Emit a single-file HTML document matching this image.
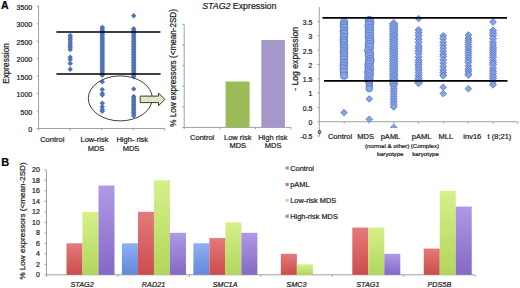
<!DOCTYPE html>
<html><head><meta charset="utf-8"><style>
html,body{margin:0;padding:0;background:#fff;}
body{width:520px;height:288px;overflow:hidden;}
svg{display:block;font-family:"Liberation Sans", sans-serif;}
text{stroke:#1e1e1e;stroke-width:0.22px;}
</style></head><body>
<svg width="520" height="288" viewBox="0 0 520 288">
<rect width="520" height="288" fill="#fff"/>
<text x="1.00" y="9.00" font-size="10.5" text-anchor="start" fill="#000" font-weight="bold" >A</text>
<text x="1.20" y="165.90" font-size="11.0" text-anchor="start" fill="#000" font-weight="bold" >B</text>
<line x1="38.60" y1="5.50" x2="38.60" y2="128.50" stroke="#a0a0a0" stroke-width="1"/>
<line x1="38.60" y1="128.50" x2="164.80" y2="128.50" stroke="#a0a0a0" stroke-width="1"/>
<line x1="36.60" y1="128.50" x2="38.60" y2="128.50" stroke="#a0a0a0" stroke-width="1"/>
<text x="32.20" y="132.10" font-size="7.0" text-anchor="end" fill="#1e1e1e" >0</text>
<line x1="36.60" y1="111.04" x2="38.60" y2="111.04" stroke="#a0a0a0" stroke-width="1"/>
<text x="32.20" y="114.64" font-size="7.0" text-anchor="end" fill="#1e1e1e" >500</text>
<line x1="36.60" y1="93.58" x2="38.60" y2="93.58" stroke="#a0a0a0" stroke-width="1"/>
<text x="32.20" y="97.18" font-size="7.0" text-anchor="end" fill="#1e1e1e" >1000</text>
<line x1="36.60" y1="76.12" x2="38.60" y2="76.12" stroke="#a0a0a0" stroke-width="1"/>
<text x="32.20" y="79.72" font-size="7.0" text-anchor="end" fill="#1e1e1e" >1500</text>
<line x1="36.60" y1="58.66" x2="38.60" y2="58.66" stroke="#a0a0a0" stroke-width="1"/>
<text x="32.20" y="62.26" font-size="7.0" text-anchor="end" fill="#1e1e1e" >2000</text>
<line x1="36.60" y1="41.20" x2="38.60" y2="41.20" stroke="#a0a0a0" stroke-width="1"/>
<text x="32.20" y="44.80" font-size="7.0" text-anchor="end" fill="#1e1e1e" >2500</text>
<line x1="36.60" y1="23.74" x2="38.60" y2="23.74" stroke="#a0a0a0" stroke-width="1"/>
<text x="32.20" y="27.34" font-size="7.0" text-anchor="end" fill="#1e1e1e" >3000</text>
<line x1="36.60" y1="6.28" x2="38.60" y2="6.28" stroke="#a0a0a0" stroke-width="1"/>
<text x="32.20" y="9.88" font-size="7.0" text-anchor="end" fill="#1e1e1e" >3500</text>
<line x1="38.60" y1="128.50" x2="38.60" y2="130.50" stroke="#a0a0a0" stroke-width="1"/>
<line x1="70.15" y1="128.50" x2="70.15" y2="130.50" stroke="#a0a0a0" stroke-width="1"/>
<line x1="101.70" y1="128.50" x2="101.70" y2="130.50" stroke="#a0a0a0" stroke-width="1"/>
<line x1="133.25" y1="128.50" x2="133.25" y2="130.50" stroke="#a0a0a0" stroke-width="1"/>
<line x1="164.80" y1="128.50" x2="164.80" y2="130.50" stroke="#a0a0a0" stroke-width="1"/>
<text transform="translate(9.3,63.5) rotate(-90)" font-size="8.2" text-anchor="middle" fill="#1e1e1e">Expression</text>
<text x="52.30" y="141.60" font-size="7.5" text-anchor="middle" fill="#1e1e1e" >Control</text>
<text x="94.50" y="141.60" font-size="7.5" text-anchor="middle" fill="#1e1e1e" >Low-risk</text>
<text x="96.00" y="150.70" font-size="7.5" text-anchor="middle" fill="#1e1e1e" >MDS</text>
<text x="132.30" y="141.60" font-size="7.5" text-anchor="middle" fill="#1e1e1e" >High- risk</text>
<text x="131.00" y="150.70" font-size="7.5" text-anchor="middle" fill="#1e1e1e" >MDS</text>
<path d="M70.20 32.80L72.90 35.50L70.20 38.20L67.50 35.50Z" fill="#4f72b8" stroke="none" stroke-width="0.6"/>
<path d="M70.20 34.80L72.90 37.50L70.20 40.20L67.50 37.50Z" fill="#4f72b8" stroke="none" stroke-width="0.6"/>
<path d="M70.20 36.80L72.90 39.50L70.20 42.20L67.50 39.50Z" fill="#4f72b8" stroke="none" stroke-width="0.6"/>
<path d="M70.20 38.80L72.90 41.50L70.20 44.20L67.50 41.50Z" fill="#4f72b8" stroke="none" stroke-width="0.6"/>
<path d="M70.20 40.80L72.90 43.50L70.20 46.20L67.50 43.50Z" fill="#4f72b8" stroke="none" stroke-width="0.6"/>
<path d="M70.20 42.80L72.90 45.50L70.20 48.20L67.50 45.50Z" fill="#4f72b8" stroke="none" stroke-width="0.6"/>
<path d="M70.20 44.80L72.90 47.50L70.20 50.20L67.50 47.50Z" fill="#4f72b8" stroke="none" stroke-width="0.6"/>
<path d="M70.20 46.80L72.90 49.50L70.20 52.20L67.50 49.50Z" fill="#4f72b8" stroke="none" stroke-width="0.6"/>
<path d="M70.20 54.50L72.90 57.20L70.20 59.90L67.50 57.20Z" fill="#4f72b8" stroke="none" stroke-width="0.6"/>
<path d="M70.20 56.80L72.90 59.50L70.20 62.20L67.50 59.50Z" fill="#4f72b8" stroke="none" stroke-width="0.6"/>
<path d="M70.20 60.80L72.90 63.50L70.20 66.20L67.50 63.50Z" fill="#4f72b8" stroke="none" stroke-width="0.6"/>
<path d="M70.20 66.50L72.90 69.20L70.20 71.90L67.50 69.20Z" fill="#4f72b8" stroke="none" stroke-width="0.6"/>
<path d="M102.30 24.60L105.00 27.30L102.30 30.00L99.60 27.30Z" fill="#4f72b8" stroke="none" stroke-width="0.6"/>
<path d="M102.30 26.20L105.00 28.90L102.30 31.60L99.60 28.90Z" fill="#4f72b8" stroke="none" stroke-width="0.6"/>
<path d="M102.30 27.80L105.00 30.50L102.30 33.20L99.60 30.50Z" fill="#4f72b8" stroke="none" stroke-width="0.6"/>
<path d="M102.30 29.40L105.00 32.10L102.30 34.80L99.60 32.10Z" fill="#4f72b8" stroke="none" stroke-width="0.6"/>
<path d="M102.30 31.00L105.00 33.70L102.30 36.40L99.60 33.70Z" fill="#4f72b8" stroke="none" stroke-width="0.6"/>
<path d="M102.30 32.60L105.00 35.30L102.30 38.00L99.60 35.30Z" fill="#4f72b8" stroke="none" stroke-width="0.6"/>
<path d="M102.30 34.20L105.00 36.90L102.30 39.60L99.60 36.90Z" fill="#4f72b8" stroke="none" stroke-width="0.6"/>
<path d="M102.30 35.80L105.00 38.50L102.30 41.20L99.60 38.50Z" fill="#4f72b8" stroke="none" stroke-width="0.6"/>
<path d="M102.30 37.40L105.00 40.10L102.30 42.80L99.60 40.10Z" fill="#4f72b8" stroke="none" stroke-width="0.6"/>
<path d="M102.30 39.00L105.00 41.70L102.30 44.40L99.60 41.70Z" fill="#4f72b8" stroke="none" stroke-width="0.6"/>
<path d="M102.30 40.60L105.00 43.30L102.30 46.00L99.60 43.30Z" fill="#4f72b8" stroke="none" stroke-width="0.6"/>
<path d="M102.30 42.20L105.00 44.90L102.30 47.60L99.60 44.90Z" fill="#4f72b8" stroke="none" stroke-width="0.6"/>
<path d="M102.30 43.80L105.00 46.50L102.30 49.20L99.60 46.50Z" fill="#4f72b8" stroke="none" stroke-width="0.6"/>
<path d="M102.30 45.40L105.00 48.10L102.30 50.80L99.60 48.10Z" fill="#4f72b8" stroke="none" stroke-width="0.6"/>
<path d="M102.30 47.00L105.00 49.70L102.30 52.40L99.60 49.70Z" fill="#4f72b8" stroke="none" stroke-width="0.6"/>
<path d="M102.30 48.60L105.00 51.30L102.30 54.00L99.60 51.30Z" fill="#4f72b8" stroke="none" stroke-width="0.6"/>
<path d="M102.30 50.20L105.00 52.90L102.30 55.60L99.60 52.90Z" fill="#4f72b8" stroke="none" stroke-width="0.6"/>
<path d="M102.30 51.80L105.00 54.50L102.30 57.20L99.60 54.50Z" fill="#4f72b8" stroke="none" stroke-width="0.6"/>
<path d="M102.30 53.40L105.00 56.10L102.30 58.80L99.60 56.10Z" fill="#4f72b8" stroke="none" stroke-width="0.6"/>
<path d="M102.30 55.00L105.00 57.70L102.30 60.40L99.60 57.70Z" fill="#4f72b8" stroke="none" stroke-width="0.6"/>
<path d="M102.30 56.60L105.00 59.30L102.30 62.00L99.60 59.30Z" fill="#4f72b8" stroke="none" stroke-width="0.6"/>
<path d="M102.30 58.20L105.00 60.90L102.30 63.60L99.60 60.90Z" fill="#4f72b8" stroke="none" stroke-width="0.6"/>
<path d="M102.30 59.80L105.00 62.50L102.30 65.20L99.60 62.50Z" fill="#4f72b8" stroke="none" stroke-width="0.6"/>
<path d="M102.30 61.40L105.00 64.10L102.30 66.80L99.60 64.10Z" fill="#4f72b8" stroke="none" stroke-width="0.6"/>
<path d="M102.30 63.00L105.00 65.70L102.30 68.40L99.60 65.70Z" fill="#4f72b8" stroke="none" stroke-width="0.6"/>
<path d="M102.30 64.60L105.00 67.30L102.30 70.00L99.60 67.30Z" fill="#4f72b8" stroke="none" stroke-width="0.6"/>
<path d="M102.30 66.20L105.00 68.90L102.30 71.60L99.60 68.90Z" fill="#4f72b8" stroke="none" stroke-width="0.6"/>
<path d="M102.30 67.80L105.00 70.50L102.30 73.20L99.60 70.50Z" fill="#4f72b8" stroke="none" stroke-width="0.6"/>
<path d="M102.30 69.40L105.00 72.10L102.30 74.80L99.60 72.10Z" fill="#4f72b8" stroke="none" stroke-width="0.6"/>
<path d="M102.30 71.00L105.00 73.70L102.30 76.40L99.60 73.70Z" fill="#4f72b8" stroke="none" stroke-width="0.6"/>
<path d="M102.30 72.60L105.00 75.30L102.30 78.00L99.60 75.30Z" fill="#4f72b8" stroke="none" stroke-width="0.6"/>
<path d="M102.30 79.10L105.00 81.80L102.30 84.50L99.60 81.80Z" fill="#4f72b8" stroke="none" stroke-width="0.6"/>
<path d="M102.30 86.90L105.00 89.60L102.30 92.30L99.60 89.60Z" fill="#4f72b8" stroke="none" stroke-width="0.6"/>
<path d="M102.30 90.70L105.00 93.40L102.30 96.10L99.60 93.40Z" fill="#4f72b8" stroke="none" stroke-width="0.6"/>
<path d="M102.30 92.30L105.00 95.00L102.30 97.70L99.60 95.00Z" fill="#4f72b8" stroke="none" stroke-width="0.6"/>
<path d="M102.30 100.60L105.00 103.30L102.30 106.00L99.60 103.30Z" fill="#4f72b8" stroke="none" stroke-width="0.6"/>
<path d="M102.30 104.10L105.00 106.80L102.30 109.50L99.60 106.80Z" fill="#4f72b8" stroke="none" stroke-width="0.6"/>
<path d="M102.30 106.90L105.00 109.60L102.30 112.30L99.60 109.60Z" fill="#4f72b8" stroke="none" stroke-width="0.6"/>
<path d="M102.30 108.50L105.00 111.20L102.30 113.90L99.60 111.20Z" fill="#4f72b8" stroke="none" stroke-width="0.6"/>
<path d="M133.70 13.10L136.40 15.80L133.70 18.50L131.00 15.80Z" fill="#4f72b8" stroke="none" stroke-width="0.6"/>
<path d="M133.70 26.10L136.40 28.80L133.70 31.50L131.00 28.80Z" fill="#4f72b8" stroke="none" stroke-width="0.6"/>
<path d="M133.70 27.70L136.40 30.40L133.70 33.10L131.00 30.40Z" fill="#4f72b8" stroke="none" stroke-width="0.6"/>
<path d="M133.70 29.30L136.40 32.00L133.70 34.70L131.00 32.00Z" fill="#4f72b8" stroke="none" stroke-width="0.6"/>
<path d="M133.70 30.90L136.40 33.60L133.70 36.30L131.00 33.60Z" fill="#4f72b8" stroke="none" stroke-width="0.6"/>
<path d="M133.70 32.50L136.40 35.20L133.70 37.90L131.00 35.20Z" fill="#4f72b8" stroke="none" stroke-width="0.6"/>
<path d="M133.70 34.10L136.40 36.80L133.70 39.50L131.00 36.80Z" fill="#4f72b8" stroke="none" stroke-width="0.6"/>
<path d="M133.70 35.70L136.40 38.40L133.70 41.10L131.00 38.40Z" fill="#4f72b8" stroke="none" stroke-width="0.6"/>
<path d="M133.70 37.30L136.40 40.00L133.70 42.70L131.00 40.00Z" fill="#4f72b8" stroke="none" stroke-width="0.6"/>
<path d="M133.70 38.90L136.40 41.60L133.70 44.30L131.00 41.60Z" fill="#4f72b8" stroke="none" stroke-width="0.6"/>
<path d="M133.70 40.50L136.40 43.20L133.70 45.90L131.00 43.20Z" fill="#4f72b8" stroke="none" stroke-width="0.6"/>
<path d="M133.70 42.10L136.40 44.80L133.70 47.50L131.00 44.80Z" fill="#4f72b8" stroke="none" stroke-width="0.6"/>
<path d="M133.70 43.70L136.40 46.40L133.70 49.10L131.00 46.40Z" fill="#4f72b8" stroke="none" stroke-width="0.6"/>
<path d="M133.70 45.30L136.40 48.00L133.70 50.70L131.00 48.00Z" fill="#4f72b8" stroke="none" stroke-width="0.6"/>
<path d="M133.70 46.90L136.40 49.60L133.70 52.30L131.00 49.60Z" fill="#4f72b8" stroke="none" stroke-width="0.6"/>
<path d="M133.70 48.50L136.40 51.20L133.70 53.90L131.00 51.20Z" fill="#4f72b8" stroke="none" stroke-width="0.6"/>
<path d="M133.70 50.10L136.40 52.80L133.70 55.50L131.00 52.80Z" fill="#4f72b8" stroke="none" stroke-width="0.6"/>
<path d="M133.70 51.70L136.40 54.40L133.70 57.10L131.00 54.40Z" fill="#4f72b8" stroke="none" stroke-width="0.6"/>
<path d="M133.70 53.30L136.40 56.00L133.70 58.70L131.00 56.00Z" fill="#4f72b8" stroke="none" stroke-width="0.6"/>
<path d="M133.70 54.90L136.40 57.60L133.70 60.30L131.00 57.60Z" fill="#4f72b8" stroke="none" stroke-width="0.6"/>
<path d="M133.70 56.50L136.40 59.20L133.70 61.90L131.00 59.20Z" fill="#4f72b8" stroke="none" stroke-width="0.6"/>
<path d="M133.70 58.10L136.40 60.80L133.70 63.50L131.00 60.80Z" fill="#4f72b8" stroke="none" stroke-width="0.6"/>
<path d="M133.70 59.70L136.40 62.40L133.70 65.10L131.00 62.40Z" fill="#4f72b8" stroke="none" stroke-width="0.6"/>
<path d="M133.70 61.30L136.40 64.00L133.70 66.70L131.00 64.00Z" fill="#4f72b8" stroke="none" stroke-width="0.6"/>
<path d="M133.70 62.90L136.40 65.60L133.70 68.30L131.00 65.60Z" fill="#4f72b8" stroke="none" stroke-width="0.6"/>
<path d="M133.70 64.50L136.40 67.20L133.70 69.90L131.00 67.20Z" fill="#4f72b8" stroke="none" stroke-width="0.6"/>
<path d="M133.70 66.10L136.40 68.80L133.70 71.50L131.00 68.80Z" fill="#4f72b8" stroke="none" stroke-width="0.6"/>
<path d="M133.70 67.70L136.40 70.40L133.70 73.10L131.00 70.40Z" fill="#4f72b8" stroke="none" stroke-width="0.6"/>
<path d="M133.70 69.30L136.40 72.00L133.70 74.70L131.00 72.00Z" fill="#4f72b8" stroke="none" stroke-width="0.6"/>
<path d="M133.70 70.90L136.40 73.60L133.70 76.30L131.00 73.60Z" fill="#4f72b8" stroke="none" stroke-width="0.6"/>
<path d="M133.70 72.50L136.40 75.20L133.70 77.90L131.00 75.20Z" fill="#4f72b8" stroke="none" stroke-width="0.6"/>
<path d="M133.70 74.10L136.40 76.80L133.70 79.50L131.00 76.80Z" fill="#4f72b8" stroke="none" stroke-width="0.6"/>
<path d="M133.70 86.20L136.40 88.90L133.70 91.60L131.00 88.90Z" fill="#4f72b8" stroke="none" stroke-width="0.6"/>
<path d="M133.70 93.80L136.40 96.50L133.70 99.20L131.00 96.50Z" fill="#4f72b8" stroke="none" stroke-width="0.6"/>
<path d="M133.70 95.40L136.40 98.10L133.70 100.80L131.00 98.10Z" fill="#4f72b8" stroke="none" stroke-width="0.6"/>
<path d="M133.70 97.00L136.40 99.70L133.70 102.40L131.00 99.70Z" fill="#4f72b8" stroke="none" stroke-width="0.6"/>
<path d="M133.70 98.60L136.40 101.30L133.70 104.00L131.00 101.30Z" fill="#4f72b8" stroke="none" stroke-width="0.6"/>
<path d="M133.70 100.20L136.40 102.90L133.70 105.60L131.00 102.90Z" fill="#4f72b8" stroke="none" stroke-width="0.6"/>
<path d="M133.70 101.80L136.40 104.50L133.70 107.20L131.00 104.50Z" fill="#4f72b8" stroke="none" stroke-width="0.6"/>
<path d="M133.70 103.40L136.40 106.10L133.70 108.80L131.00 106.10Z" fill="#4f72b8" stroke="none" stroke-width="0.6"/>
<path d="M133.70 105.00L136.40 107.70L133.70 110.40L131.00 107.70Z" fill="#4f72b8" stroke="none" stroke-width="0.6"/>
<path d="M133.70 106.60L136.40 109.30L133.70 112.00L131.00 109.30Z" fill="#4f72b8" stroke="none" stroke-width="0.6"/>
<path d="M133.70 108.20L136.40 110.90L133.70 113.60L131.00 110.90Z" fill="#4f72b8" stroke="none" stroke-width="0.6"/>
<path d="M133.70 109.80L136.40 112.50L133.70 115.20L131.00 112.50Z" fill="#4f72b8" stroke="none" stroke-width="0.6"/>
<path d="M133.70 111.40L136.40 114.10L133.70 116.80L131.00 114.10Z" fill="#4f72b8" stroke="none" stroke-width="0.6"/>
<path d="M133.70 113.00L136.40 115.70L133.70 118.40L131.00 115.70Z" fill="#4f72b8" stroke="none" stroke-width="0.6"/>
<line x1="56.40" y1="32.00" x2="160.40" y2="32.00" stroke="#000" stroke-width="1.7"/>
<line x1="56.40" y1="74.00" x2="160.60" y2="74.00" stroke="#000" stroke-width="1.7"/>
<ellipse cx="120.3" cy="98.4" rx="32.0" ry="22.5" fill="none" stroke="#404040" stroke-width="1.0"/>
<path d="M140.2 96.1 L158.5 96.1 L158.5 93.1 L164.9 99.4 L158.5 105.7 L158.5 102.6 L140.2 102.6 Z" fill="#e1e8c9" stroke="#3a3d24" stroke-width="1.0"/>
<line x1="184.20" y1="24.60" x2="184.20" y2="127.40" stroke="#a0a0a0" stroke-width="1"/>
<line x1="184.20" y1="127.40" x2="291.20" y2="127.40" stroke="#a0a0a0" stroke-width="1"/>
<line x1="182.20" y1="127.40" x2="184.20" y2="127.40" stroke="#a0a0a0" stroke-width="1"/>
<line x1="182.20" y1="106.80" x2="184.20" y2="106.80" stroke="#a0a0a0" stroke-width="1"/>
<line x1="182.20" y1="86.20" x2="184.20" y2="86.20" stroke="#a0a0a0" stroke-width="1"/>
<line x1="182.20" y1="65.60" x2="184.20" y2="65.60" stroke="#a0a0a0" stroke-width="1"/>
<line x1="182.20" y1="45.00" x2="184.20" y2="45.00" stroke="#a0a0a0" stroke-width="1"/>
<line x1="182.20" y1="24.40" x2="184.20" y2="24.40" stroke="#a0a0a0" stroke-width="1"/>
<line x1="184.20" y1="127.40" x2="184.20" y2="129.40" stroke="#a0a0a0" stroke-width="1"/>
<line x1="219.80" y1="127.40" x2="219.80" y2="129.40" stroke="#a0a0a0" stroke-width="1"/>
<line x1="255.40" y1="127.40" x2="255.40" y2="129.40" stroke="#a0a0a0" stroke-width="1"/>
<line x1="291.00" y1="127.40" x2="291.00" y2="129.40" stroke="#a0a0a0" stroke-width="1"/>
<rect x="225.6" y="81.5" width="24" height="45.90" fill="#9bbb59"/>
<rect x="261.3" y="40.0" width="23.6" height="87.40" fill="#a597c9"/>
<text transform="translate(176.4,67.9) rotate(-90)" font-size="8.15" text-anchor="middle" fill="#1e1e1e">% Low expressors (&lt;mean-2SD)</text>
<text x="239.3" y="8.8" font-size="8.8" text-anchor="middle" fill="#1e1e1e"><tspan font-style="italic">STAG2</tspan> Expression</text>
<text x="202.20" y="139.60" font-size="7.5" text-anchor="middle" fill="#1e1e1e" >Control</text>
<text x="237.80" y="139.60" font-size="7.5" text-anchor="middle" fill="#1e1e1e" >Low risk</text>
<text x="237.80" y="148.00" font-size="7.5" text-anchor="middle" fill="#1e1e1e" >MDS</text>
<text x="272.80" y="139.60" font-size="7.5" text-anchor="middle" fill="#1e1e1e" >High risk</text>
<text x="273.20" y="148.00" font-size="7.5" text-anchor="middle" fill="#1e1e1e" >MDS</text>
<line x1="319.30" y1="7.00" x2="319.30" y2="136.50" stroke="#a0a0a0" stroke-width="1"/>
<line x1="319.30" y1="121.70" x2="517.50" y2="121.70" stroke="#a0a0a0" stroke-width="1"/>
<line x1="317.30" y1="136.01" x2="319.30" y2="136.01" stroke="#a0a0a0" stroke-width="1"/>
<line x1="317.30" y1="121.70" x2="319.30" y2="121.70" stroke="#a0a0a0" stroke-width="1"/>
<line x1="317.30" y1="107.39" x2="319.30" y2="107.39" stroke="#a0a0a0" stroke-width="1"/>
<line x1="317.30" y1="93.08" x2="319.30" y2="93.08" stroke="#a0a0a0" stroke-width="1"/>
<line x1="317.30" y1="78.77" x2="319.30" y2="78.77" stroke="#a0a0a0" stroke-width="1"/>
<line x1="317.30" y1="64.46" x2="319.30" y2="64.46" stroke="#a0a0a0" stroke-width="1"/>
<line x1="317.30" y1="50.15" x2="319.30" y2="50.15" stroke="#a0a0a0" stroke-width="1"/>
<line x1="317.30" y1="35.84" x2="319.30" y2="35.84" stroke="#a0a0a0" stroke-width="1"/>
<line x1="317.30" y1="21.53" x2="319.30" y2="21.53" stroke="#a0a0a0" stroke-width="1"/>
<text x="312.40" y="139.41" font-size="6.9" text-anchor="end" fill="#1e1e1e" >-0.5</text>
<text x="312.40" y="125.10" font-size="6.9" text-anchor="end" fill="#1e1e1e" >0</text>
<text x="312.40" y="110.79" font-size="6.9" text-anchor="end" fill="#1e1e1e" >0.5</text>
<text x="312.40" y="96.48" font-size="6.9" text-anchor="end" fill="#1e1e1e" >1</text>
<text x="312.40" y="82.17" font-size="6.9" text-anchor="end" fill="#1e1e1e" >1.5</text>
<text x="312.40" y="67.86" font-size="6.9" text-anchor="end" fill="#1e1e1e" >2</text>
<text x="312.40" y="53.55" font-size="6.9" text-anchor="end" fill="#1e1e1e" >2.5</text>
<text x="312.40" y="39.24" font-size="6.9" text-anchor="end" fill="#1e1e1e" >3</text>
<text x="312.40" y="24.93" font-size="6.9" text-anchor="end" fill="#1e1e1e" >3.5</text>
<line x1="344.13" y1="121.70" x2="344.13" y2="123.70" stroke="#a0a0a0" stroke-width="1"/>
<line x1="368.96" y1="121.70" x2="368.96" y2="123.70" stroke="#a0a0a0" stroke-width="1"/>
<line x1="393.79" y1="121.70" x2="393.79" y2="123.70" stroke="#a0a0a0" stroke-width="1"/>
<line x1="418.62" y1="121.70" x2="418.62" y2="123.70" stroke="#a0a0a0" stroke-width="1"/>
<line x1="443.45" y1="121.70" x2="443.45" y2="123.70" stroke="#a0a0a0" stroke-width="1"/>
<line x1="468.28" y1="121.70" x2="468.28" y2="123.70" stroke="#a0a0a0" stroke-width="1"/>
<line x1="493.11" y1="121.70" x2="493.11" y2="123.70" stroke="#a0a0a0" stroke-width="1"/>
<line x1="517.94" y1="121.70" x2="517.94" y2="123.70" stroke="#a0a0a0" stroke-width="1"/>
<text transform="translate(298.4,58.9) rotate(-90)" font-size="8.65" text-anchor="middle" fill="#1e1e1e">- Log expression</text>
<text x="319.30" y="133.60" font-size="6.0" text-anchor="middle" fill="#1e1e1e" >0</text>
<circle cx="344.05" cy="22.20" r="3.8" fill="#88a3e4" stroke="#5676c8" stroke-width="0.8"/>
<circle cx="343.94" cy="25.12" r="3.8" fill="#88a3e4" stroke="#5676c8" stroke-width="0.8"/>
<circle cx="344.29" cy="27.76" r="3.8" fill="#88a3e4" stroke="#5676c8" stroke-width="0.8"/>
<circle cx="343.73" cy="31.20" r="3.8" fill="#88a3e4" stroke="#5676c8" stroke-width="0.8"/>
<circle cx="344.22" cy="33.72" r="3.8" fill="#88a3e4" stroke="#5676c8" stroke-width="0.8"/>
<circle cx="343.87" cy="36.97" r="3.8" fill="#88a3e4" stroke="#5676c8" stroke-width="0.8"/>
<circle cx="343.79" cy="39.96" r="3.8" fill="#88a3e4" stroke="#5676c8" stroke-width="0.8"/>
<circle cx="343.77" cy="42.45" r="3.8" fill="#88a3e4" stroke="#5676c8" stroke-width="0.8"/>
<circle cx="343.89" cy="45.66" r="3.8" fill="#88a3e4" stroke="#5676c8" stroke-width="0.8"/>
<circle cx="344.19" cy="48.12" r="3.8" fill="#88a3e4" stroke="#5676c8" stroke-width="0.8"/>
<circle cx="343.81" cy="51.22" r="3.8" fill="#88a3e4" stroke="#5676c8" stroke-width="0.8"/>
<circle cx="344.05" cy="53.73" r="3.8" fill="#88a3e4" stroke="#5676c8" stroke-width="0.8"/>
<circle cx="344.08" cy="56.27" r="3.8" fill="#88a3e4" stroke="#5676c8" stroke-width="0.8"/>
<circle cx="343.92" cy="59.35" r="3.8" fill="#88a3e4" stroke="#5676c8" stroke-width="0.8"/>
<circle cx="344.03" cy="63.08" r="3.8" fill="#88a3e4" stroke="#5676c8" stroke-width="0.8"/>
<circle cx="343.74" cy="65.68" r="3.8" fill="#88a3e4" stroke="#5676c8" stroke-width="0.8"/>
<circle cx="343.74" cy="68.43" r="3.8" fill="#88a3e4" stroke="#5676c8" stroke-width="0.8"/>
<circle cx="343.82" cy="71.84" r="3.8" fill="#88a3e4" stroke="#5676c8" stroke-width="0.8"/>
<circle cx="344.11" cy="75.60" r="3.8" fill="#88a3e4" stroke="#5676c8" stroke-width="0.8"/>
<path d="M344.00 109.30L347.30 112.60L344.00 115.90L340.70 112.60Z" fill="#88a3e4" stroke="#5676c8" stroke-width="0.8"/>
<circle cx="369.39" cy="20.50" r="4.2" fill="#88a3e4" stroke="#5676c8" stroke-width="0.8"/>
<circle cx="369.75" cy="23.10" r="4.2" fill="#88a3e4" stroke="#5676c8" stroke-width="0.8"/>
<circle cx="369.08" cy="25.54" r="4.2" fill="#88a3e4" stroke="#5676c8" stroke-width="0.8"/>
<circle cx="369.53" cy="28.36" r="4.2" fill="#88a3e4" stroke="#5676c8" stroke-width="0.8"/>
<circle cx="369.41" cy="30.99" r="4.2" fill="#88a3e4" stroke="#5676c8" stroke-width="0.8"/>
<circle cx="369.40" cy="33.41" r="4.2" fill="#88a3e4" stroke="#5676c8" stroke-width="0.8"/>
<circle cx="369.25" cy="36.52" r="4.2" fill="#88a3e4" stroke="#5676c8" stroke-width="0.8"/>
<circle cx="369.71" cy="39.50" r="4.2" fill="#88a3e4" stroke="#5676c8" stroke-width="0.8"/>
<circle cx="369.83" cy="41.84" r="4.2" fill="#88a3e4" stroke="#5676c8" stroke-width="0.8"/>
<circle cx="369.27" cy="44.65" r="4.2" fill="#88a3e4" stroke="#5676c8" stroke-width="0.8"/>
<circle cx="369.50" cy="47.38" r="4.2" fill="#88a3e4" stroke="#5676c8" stroke-width="0.8"/>
<circle cx="368.77" cy="50.61" r="4.2" fill="#88a3e4" stroke="#5676c8" stroke-width="0.8"/>
<circle cx="369.54" cy="53.63" r="4.2" fill="#88a3e4" stroke="#5676c8" stroke-width="0.8"/>
<circle cx="369.48" cy="56.03" r="4.2" fill="#88a3e4" stroke="#5676c8" stroke-width="0.8"/>
<circle cx="369.89" cy="59.41" r="4.2" fill="#88a3e4" stroke="#5676c8" stroke-width="0.8"/>
<circle cx="369.69" cy="61.57" r="4.2" fill="#88a3e4" stroke="#5676c8" stroke-width="0.8"/>
<circle cx="369.04" cy="64.16" r="4.2" fill="#88a3e4" stroke="#5676c8" stroke-width="0.8"/>
<circle cx="369.16" cy="67.22" r="4.2" fill="#88a3e4" stroke="#5676c8" stroke-width="0.8"/>
<circle cx="369.50" cy="69.43" r="4.2" fill="#88a3e4" stroke="#5676c8" stroke-width="0.8"/>
<circle cx="368.73" cy="72.11" r="4.2" fill="#88a3e4" stroke="#5676c8" stroke-width="0.8"/>
<circle cx="369.25" cy="74.17" r="4.2" fill="#88a3e4" stroke="#5676c8" stroke-width="0.8"/>
<circle cx="368.90" cy="77.10" r="4.2" fill="#88a3e4" stroke="#5676c8" stroke-width="0.8"/>
<circle cx="368.84" cy="80.00" r="4.2" fill="#88a3e4" stroke="#5676c8" stroke-width="0.8"/>
<circle cx="369.30" cy="81.50" r="3.3" fill="#88a3e4" stroke="#5676c8" stroke-width="0.8"/>
<circle cx="369.30" cy="83.74" r="3.3" fill="#88a3e4" stroke="#5676c8" stroke-width="0.8"/>
<circle cx="369.30" cy="86.40" r="3.3" fill="#88a3e4" stroke="#5676c8" stroke-width="0.8"/>
<circle cx="369.30" cy="88.60" r="3.3" fill="#88a3e4" stroke="#5676c8" stroke-width="0.8"/>
<path d="M369.30 95.60L372.60 98.90L369.30 102.20L366.00 98.90Z" fill="#88a3e4" stroke="#5676c8" stroke-width="0.8"/>
<path d="M369.30 115.90L372.60 119.20L369.30 122.50L366.00 119.20Z" fill="#88a3e4" stroke="#5676c8" stroke-width="0.8"/>
<path d="M393.70 19.40L398.10 23.80L393.70 28.20L389.30 23.80Z" fill="#88a3e4" stroke="#5676c8" stroke-width="0.8"/>
<path d="M393.70 21.90L398.10 26.30L393.70 30.70L389.30 26.30Z" fill="#88a3e4" stroke="#5676c8" stroke-width="0.8"/>
<path d="M393.70 24.40L398.10 28.80L393.70 33.20L389.30 28.80Z" fill="#88a3e4" stroke="#5676c8" stroke-width="0.8"/>
<path d="M393.70 26.90L398.10 31.30L393.70 35.70L389.30 31.30Z" fill="#88a3e4" stroke="#5676c8" stroke-width="0.8"/>
<path d="M393.70 29.40L398.10 33.80L393.70 38.20L389.30 33.80Z" fill="#88a3e4" stroke="#5676c8" stroke-width="0.8"/>
<path d="M393.70 31.90L398.10 36.30L393.70 40.70L389.30 36.30Z" fill="#88a3e4" stroke="#5676c8" stroke-width="0.8"/>
<path d="M393.70 34.40L398.10 38.80L393.70 43.20L389.30 38.80Z" fill="#88a3e4" stroke="#5676c8" stroke-width="0.8"/>
<path d="M393.70 36.90L398.10 41.30L393.70 45.70L389.30 41.30Z" fill="#88a3e4" stroke="#5676c8" stroke-width="0.8"/>
<path d="M393.70 39.40L398.10 43.80L393.70 48.20L389.30 43.80Z" fill="#88a3e4" stroke="#5676c8" stroke-width="0.8"/>
<path d="M393.70 41.90L398.10 46.30L393.70 50.70L389.30 46.30Z" fill="#88a3e4" stroke="#5676c8" stroke-width="0.8"/>
<path d="M393.70 44.40L398.10 48.80L393.70 53.20L389.30 48.80Z" fill="#88a3e4" stroke="#5676c8" stroke-width="0.8"/>
<path d="M393.70 46.90L398.10 51.30L393.70 55.70L389.30 51.30Z" fill="#88a3e4" stroke="#5676c8" stroke-width="0.8"/>
<path d="M393.70 49.40L398.10 53.80L393.70 58.20L389.30 53.80Z" fill="#88a3e4" stroke="#5676c8" stroke-width="0.8"/>
<path d="M393.70 51.90L398.10 56.30L393.70 60.70L389.30 56.30Z" fill="#88a3e4" stroke="#5676c8" stroke-width="0.8"/>
<path d="M393.70 54.40L398.10 58.80L393.70 63.20L389.30 58.80Z" fill="#88a3e4" stroke="#5676c8" stroke-width="0.8"/>
<path d="M393.70 56.90L398.10 61.30L393.70 65.70L389.30 61.30Z" fill="#88a3e4" stroke="#5676c8" stroke-width="0.8"/>
<path d="M393.70 59.40L398.10 63.80L393.70 68.20L389.30 63.80Z" fill="#88a3e4" stroke="#5676c8" stroke-width="0.8"/>
<path d="M393.70 61.90L398.10 66.30L393.70 70.70L389.30 66.30Z" fill="#88a3e4" stroke="#5676c8" stroke-width="0.8"/>
<path d="M393.70 64.40L398.10 68.80L393.70 73.20L389.30 68.80Z" fill="#88a3e4" stroke="#5676c8" stroke-width="0.8"/>
<path d="M393.70 66.90L398.10 71.30L393.70 75.70L389.30 71.30Z" fill="#88a3e4" stroke="#5676c8" stroke-width="0.8"/>
<path d="M393.70 69.40L398.10 73.80L393.70 78.20L389.30 73.80Z" fill="#88a3e4" stroke="#5676c8" stroke-width="0.8"/>
<path d="M393.70 71.90L398.10 76.30L393.70 80.70L389.30 76.30Z" fill="#88a3e4" stroke="#5676c8" stroke-width="0.8"/>
<path d="M393.70 74.40L398.10 78.80L393.70 83.20L389.30 78.80Z" fill="#88a3e4" stroke="#5676c8" stroke-width="0.8"/>
<path d="M393.70 76.90L398.10 81.30L393.70 85.70L389.30 81.30Z" fill="#88a3e4" stroke="#5676c8" stroke-width="0.8"/>
<path d="M393.70 79.40L398.10 83.80L393.70 88.20L389.30 83.80Z" fill="#88a3e4" stroke="#5676c8" stroke-width="0.8"/>
<path d="M393.70 82.50L397.20 86.00L393.70 89.50L390.20 86.00Z" fill="#88a3e4" stroke="#5676c8" stroke-width="0.8"/>
<path d="M393.70 85.10L397.20 88.60L393.70 92.10L390.20 88.60Z" fill="#88a3e4" stroke="#5676c8" stroke-width="0.8"/>
<path d="M393.70 87.70L397.20 91.20L393.70 94.70L390.20 91.20Z" fill="#88a3e4" stroke="#5676c8" stroke-width="0.8"/>
<path d="M393.70 90.30L397.20 93.80L393.70 97.30L390.20 93.80Z" fill="#88a3e4" stroke="#5676c8" stroke-width="0.8"/>
<path d="M393.70 92.90L397.20 96.40L393.70 99.90L390.20 96.40Z" fill="#88a3e4" stroke="#5676c8" stroke-width="0.8"/>
<path d="M393.70 95.50L397.20 99.00L393.70 102.50L390.20 99.00Z" fill="#88a3e4" stroke="#5676c8" stroke-width="0.8"/>
<path d="M393.70 98.10L397.20 101.60L393.70 105.10L390.20 101.60Z" fill="#88a3e4" stroke="#5676c8" stroke-width="0.8"/>
<path d="M393.70 100.70L397.20 104.20L393.70 107.70L390.20 104.20Z" fill="#88a3e4" stroke="#5676c8" stroke-width="0.8"/>
<path d="M393.70 103.30L397.20 106.80L393.70 110.30L390.20 106.80Z" fill="#88a3e4" stroke="#5676c8" stroke-width="0.8"/>
<path d="M390.3 127.6 L393.7 123.9 L397.1 127.6 Z" fill="#88a3e4" stroke="#5676c8" stroke-width="0.7"/>
<path d="M418.60 15.30L421.90 18.60L418.60 21.90L415.30 18.60Z" fill="#88a3e4" stroke="#5676c8" stroke-width="0.8"/>
<path d="M418.60 26.40L422.20 30.00L418.60 33.60L415.00 30.00Z" fill="#88a3e4" stroke="#5676c8" stroke-width="0.8"/>
<path d="M418.60 29.12L422.20 32.72L418.60 36.32L415.00 32.72Z" fill="#88a3e4" stroke="#5676c8" stroke-width="0.8"/>
<path d="M418.60 32.00L422.20 35.60L418.60 39.20L415.00 35.60Z" fill="#88a3e4" stroke="#5676c8" stroke-width="0.8"/>
<path d="M418.60 35.41L422.20 39.01L418.60 42.61L415.00 39.01Z" fill="#88a3e4" stroke="#5676c8" stroke-width="0.8"/>
<path d="M418.60 38.72L422.20 42.32L418.60 45.92L415.00 42.32Z" fill="#88a3e4" stroke="#5676c8" stroke-width="0.8"/>
<path d="M418.60 42.10L422.20 45.70L418.60 49.30L415.00 45.70Z" fill="#88a3e4" stroke="#5676c8" stroke-width="0.8"/>
<path d="M418.60 44.55L422.20 48.15L418.60 51.75L415.00 48.15Z" fill="#88a3e4" stroke="#5676c8" stroke-width="0.8"/>
<path d="M418.60 47.21L422.20 50.81L418.60 54.41L415.00 50.81Z" fill="#88a3e4" stroke="#5676c8" stroke-width="0.8"/>
<path d="M418.60 49.79L422.20 53.39L418.60 56.99L415.00 53.39Z" fill="#88a3e4" stroke="#5676c8" stroke-width="0.8"/>
<path d="M418.60 53.20L422.20 56.80L418.60 60.40L415.00 56.80Z" fill="#88a3e4" stroke="#5676c8" stroke-width="0.8"/>
<path d="M418.60 56.74L422.20 60.34L418.60 63.94L415.00 60.34Z" fill="#88a3e4" stroke="#5676c8" stroke-width="0.8"/>
<path d="M418.60 58.98L422.20 62.58L418.60 66.18L415.00 62.58Z" fill="#88a3e4" stroke="#5676c8" stroke-width="0.8"/>
<path d="M418.60 61.26L422.20 64.86L418.60 68.46L415.00 64.86Z" fill="#88a3e4" stroke="#5676c8" stroke-width="0.8"/>
<path d="M418.60 63.63L422.20 67.23L418.60 70.83L415.00 67.23Z" fill="#88a3e4" stroke="#5676c8" stroke-width="0.8"/>
<path d="M418.60 66.00L422.20 69.60L418.60 73.20L415.00 69.60Z" fill="#88a3e4" stroke="#5676c8" stroke-width="0.8"/>
<path d="M418.60 68.78L422.20 72.38L418.60 75.98L415.00 72.38Z" fill="#88a3e4" stroke="#5676c8" stroke-width="0.8"/>
<path d="M418.60 71.72L422.20 75.32L418.60 78.92L415.00 75.32Z" fill="#88a3e4" stroke="#5676c8" stroke-width="0.8"/>
<path d="M418.60 74.14L422.20 77.74L418.60 81.34L415.00 77.74Z" fill="#88a3e4" stroke="#5676c8" stroke-width="0.8"/>
<path d="M418.60 76.15L422.20 79.75L418.60 83.35L415.00 79.75Z" fill="#88a3e4" stroke="#5676c8" stroke-width="0.8"/>
<path d="M418.60 78.82L422.20 82.42L418.60 86.02L415.00 82.42Z" fill="#88a3e4" stroke="#5676c8" stroke-width="0.8"/>
<path d="M418.60 79.60L422.20 83.20L418.60 86.80L415.00 83.20Z" fill="#88a3e4" stroke="#5676c8" stroke-width="0.8"/>
<path d="M443.20 32.40L446.60 35.80L443.20 39.20L439.80 35.80Z" fill="#88a3e4" stroke="#5676c8" stroke-width="0.8"/>
<path d="M443.20 35.31L446.60 38.71L443.20 42.11L439.80 38.71Z" fill="#88a3e4" stroke="#5676c8" stroke-width="0.8"/>
<path d="M443.20 38.83L446.60 42.23L443.20 45.63L439.80 42.23Z" fill="#88a3e4" stroke="#5676c8" stroke-width="0.8"/>
<path d="M443.20 41.94L446.60 45.34L443.20 48.74L439.80 45.34Z" fill="#88a3e4" stroke="#5676c8" stroke-width="0.8"/>
<path d="M443.20 44.76L446.60 48.16L443.20 51.56L439.80 48.16Z" fill="#88a3e4" stroke="#5676c8" stroke-width="0.8"/>
<path d="M443.20 47.75L446.60 51.15L443.20 54.55L439.80 51.15Z" fill="#88a3e4" stroke="#5676c8" stroke-width="0.8"/>
<path d="M443.20 50.83L446.60 54.23L443.20 57.63L439.80 54.23Z" fill="#88a3e4" stroke="#5676c8" stroke-width="0.8"/>
<path d="M443.20 52.92L446.60 56.32L443.20 59.72L439.80 56.32Z" fill="#88a3e4" stroke="#5676c8" stroke-width="0.8"/>
<path d="M443.20 56.36L446.60 59.76L443.20 63.16L439.80 59.76Z" fill="#88a3e4" stroke="#5676c8" stroke-width="0.8"/>
<path d="M443.20 59.60L446.60 63.00L443.20 66.40L439.80 63.00Z" fill="#88a3e4" stroke="#5676c8" stroke-width="0.8"/>
<path d="M443.20 63.00L446.60 66.40L443.20 69.80L439.80 66.40Z" fill="#88a3e4" stroke="#5676c8" stroke-width="0.8"/>
<path d="M443.20 66.28L446.60 69.68L443.20 73.08L439.80 69.68Z" fill="#88a3e4" stroke="#5676c8" stroke-width="0.8"/>
<path d="M443.20 68.91L446.60 72.31L443.20 75.71L439.80 72.31Z" fill="#88a3e4" stroke="#5676c8" stroke-width="0.8"/>
<path d="M443.20 71.55L446.60 74.95L443.20 78.35L439.80 74.95Z" fill="#88a3e4" stroke="#5676c8" stroke-width="0.8"/>
<path d="M443.20 72.40L446.60 75.80L443.20 79.20L439.80 75.80Z" fill="#88a3e4" stroke="#5676c8" stroke-width="0.8"/>
<path d="M443.20 83.90L446.50 87.20L443.20 90.50L439.90 87.20Z" fill="#88a3e4" stroke="#5676c8" stroke-width="0.8"/>
<path d="M443.20 90.30L446.50 93.60L443.20 96.90L439.90 93.60Z" fill="#88a3e4" stroke="#5676c8" stroke-width="0.8"/>
<path d="M468.40 31.60L471.80 35.00L468.40 38.40L465.00 35.00Z" fill="#88a3e4" stroke="#5676c8" stroke-width="0.8"/>
<path d="M468.40 34.61L471.80 38.01L468.40 41.41L465.00 38.01Z" fill="#88a3e4" stroke="#5676c8" stroke-width="0.8"/>
<path d="M468.40 36.71L471.80 40.11L468.40 43.51L465.00 40.11Z" fill="#88a3e4" stroke="#5676c8" stroke-width="0.8"/>
<path d="M468.40 38.82L471.80 42.22L468.40 45.62L465.00 42.22Z" fill="#88a3e4" stroke="#5676c8" stroke-width="0.8"/>
<path d="M468.40 41.16L471.80 44.56L468.40 47.96L465.00 44.56Z" fill="#88a3e4" stroke="#5676c8" stroke-width="0.8"/>
<path d="M468.40 43.42L471.80 46.82L468.40 50.22L465.00 46.82Z" fill="#88a3e4" stroke="#5676c8" stroke-width="0.8"/>
<path d="M468.40 45.96L471.80 49.36L468.40 52.76L465.00 49.36Z" fill="#88a3e4" stroke="#5676c8" stroke-width="0.8"/>
<path d="M468.40 48.04L471.80 51.44L468.40 54.84L465.00 51.44Z" fill="#88a3e4" stroke="#5676c8" stroke-width="0.8"/>
<path d="M468.40 50.04L471.80 53.44L468.40 56.84L465.00 53.44Z" fill="#88a3e4" stroke="#5676c8" stroke-width="0.8"/>
<path d="M468.40 52.29L471.80 55.69L468.40 59.09L465.00 55.69Z" fill="#88a3e4" stroke="#5676c8" stroke-width="0.8"/>
<path d="M468.40 54.45L471.80 57.85L468.40 61.25L465.00 57.85Z" fill="#88a3e4" stroke="#5676c8" stroke-width="0.8"/>
<path d="M468.40 57.03L471.80 60.43L468.40 63.83L465.00 60.43Z" fill="#88a3e4" stroke="#5676c8" stroke-width="0.8"/>
<path d="M468.40 59.07L471.80 62.47L468.40 65.87L465.00 62.47Z" fill="#88a3e4" stroke="#5676c8" stroke-width="0.8"/>
<path d="M468.40 62.47L471.80 65.87L468.40 69.27L465.00 65.87Z" fill="#88a3e4" stroke="#5676c8" stroke-width="0.8"/>
<path d="M468.40 65.45L471.80 68.85L468.40 72.25L465.00 68.85Z" fill="#88a3e4" stroke="#5676c8" stroke-width="0.8"/>
<path d="M468.40 67.69L471.80 71.09L468.40 74.49L465.00 71.09Z" fill="#88a3e4" stroke="#5676c8" stroke-width="0.8"/>
<path d="M468.40 70.09L471.80 73.49L468.40 76.89L465.00 73.49Z" fill="#88a3e4" stroke="#5676c8" stroke-width="0.8"/>
<path d="M468.40 71.80L471.80 75.20L468.40 78.60L465.00 75.20Z" fill="#88a3e4" stroke="#5676c8" stroke-width="0.8"/>
<path d="M468.40 85.50L471.70 88.80L468.40 92.10L465.10 88.80Z" fill="#88a3e4" stroke="#5676c8" stroke-width="0.8"/>
<path d="M493.00 18.60L496.40 22.00L493.00 25.40L489.60 22.00Z" fill="#88a3e4" stroke="#5676c8" stroke-width="0.8"/>
<path d="M493.00 27.00L496.60 30.60L493.00 34.20L489.40 30.60Z" fill="#88a3e4" stroke="#5676c8" stroke-width="0.8"/>
<path d="M493.00 29.58L496.60 33.18L493.00 36.78L489.40 33.18Z" fill="#88a3e4" stroke="#5676c8" stroke-width="0.8"/>
<path d="M493.00 31.78L496.60 35.38L493.00 38.98L489.40 35.38Z" fill="#88a3e4" stroke="#5676c8" stroke-width="0.8"/>
<path d="M493.00 35.14L496.60 38.74L493.00 42.34L489.40 38.74Z" fill="#88a3e4" stroke="#5676c8" stroke-width="0.8"/>
<path d="M493.00 38.73L496.60 42.33L493.00 45.93L489.40 42.33Z" fill="#88a3e4" stroke="#5676c8" stroke-width="0.8"/>
<path d="M493.00 41.47L496.60 45.07L493.00 48.67L489.40 45.07Z" fill="#88a3e4" stroke="#5676c8" stroke-width="0.8"/>
<path d="M493.00 44.25L496.60 47.85L493.00 51.45L489.40 47.85Z" fill="#88a3e4" stroke="#5676c8" stroke-width="0.8"/>
<path d="M493.00 46.38L496.60 49.98L493.00 53.58L489.40 49.98Z" fill="#88a3e4" stroke="#5676c8" stroke-width="0.8"/>
<path d="M493.00 48.55L496.60 52.15L493.00 55.75L489.40 52.15Z" fill="#88a3e4" stroke="#5676c8" stroke-width="0.8"/>
<path d="M493.00 51.10L496.60 54.70L493.00 58.30L489.40 54.70Z" fill="#88a3e4" stroke="#5676c8" stroke-width="0.8"/>
<path d="M493.00 53.52L496.60 57.12L493.00 60.72L489.40 57.12Z" fill="#88a3e4" stroke="#5676c8" stroke-width="0.8"/>
<path d="M493.00 56.85L496.60 60.45L493.00 64.05L489.40 60.45Z" fill="#88a3e4" stroke="#5676c8" stroke-width="0.8"/>
<path d="M493.00 59.10L496.60 62.70L493.00 66.30L489.40 62.70Z" fill="#88a3e4" stroke="#5676c8" stroke-width="0.8"/>
<path d="M493.00 61.14L496.60 64.74L493.00 68.34L489.40 64.74Z" fill="#88a3e4" stroke="#5676c8" stroke-width="0.8"/>
<path d="M493.00 64.66L496.60 68.26L493.00 71.86L489.40 68.26Z" fill="#88a3e4" stroke="#5676c8" stroke-width="0.8"/>
<path d="M493.00 67.51L496.60 71.11L493.00 74.71L489.40 71.11Z" fill="#88a3e4" stroke="#5676c8" stroke-width="0.8"/>
<path d="M493.00 69.74L496.60 73.34L493.00 76.94L489.40 73.34Z" fill="#88a3e4" stroke="#5676c8" stroke-width="0.8"/>
<path d="M493.00 72.61L496.60 76.21L493.00 79.81L489.40 76.21Z" fill="#88a3e4" stroke="#5676c8" stroke-width="0.8"/>
<path d="M493.00 74.65L496.60 78.25L493.00 81.85L489.40 78.25Z" fill="#88a3e4" stroke="#5676c8" stroke-width="0.8"/>
<path d="M493.00 77.50L496.60 81.10L493.00 84.70L489.40 81.10Z" fill="#88a3e4" stroke="#5676c8" stroke-width="0.8"/>
<path d="M493.00 81.06L496.60 84.66L493.00 88.26L489.40 84.66Z" fill="#88a3e4" stroke="#5676c8" stroke-width="0.8"/>
<line x1="322.50" y1="17.90" x2="507.00" y2="17.90" stroke="#000" stroke-width="1.6"/>
<line x1="324.00" y1="80.90" x2="507.50" y2="80.90" stroke="#000" stroke-width="1.6"/>
<text x="340.00" y="139.00" font-size="7.5" text-anchor="middle" fill="#1e1e1e" >Control</text>
<text x="365.70" y="139.00" font-size="7.5" text-anchor="middle" fill="#1e1e1e" >MDS</text>
<text x="390.50" y="139.00" font-size="7.5" text-anchor="middle" fill="#1e1e1e" >pAML</text>
<text x="421.60" y="139.00" font-size="7.5" text-anchor="middle" fill="#1e1e1e" >pAML</text>
<text x="445.80" y="139.00" font-size="7.5" text-anchor="middle" fill="#1e1e1e" >MLL</text>
<text x="472.30" y="139.00" font-size="7.5" text-anchor="middle" fill="#1e1e1e" >inv16</text>
<text x="499.50" y="139.00" font-size="7.5" text-anchor="middle" fill="#1e1e1e" >t (8;21)</text>
<text x="387.20" y="147.50" font-size="6.15" text-anchor="middle" fill="#1e1e1e" >(normal &amp; other)</text>
<text x="425.00" y="147.50" font-size="6.15" text-anchor="middle" fill="#1e1e1e" >(Complex)</text>
<text x="390.20" y="155.80" font-size="6.15" text-anchor="middle" fill="#1e1e1e" >karyotype</text>
<text x="425.50" y="155.80" font-size="6.15" text-anchor="middle" fill="#1e1e1e" >karyotype</text>
<line x1="46.50" y1="170.30" x2="46.50" y2="274.80" stroke="#a0a0a0" stroke-width="1"/>
<line x1="46.50" y1="274.80" x2="475.00" y2="274.80" stroke="#a0a0a0" stroke-width="1"/>
<line x1="44.50" y1="274.80" x2="46.50" y2="274.80" stroke="#a0a0a0" stroke-width="1"/>
<text x="39.90" y="277.40" font-size="7.0" text-anchor="end" fill="#1e1e1e" >0</text>
<line x1="44.50" y1="264.30" x2="46.50" y2="264.30" stroke="#a0a0a0" stroke-width="1"/>
<text x="39.90" y="266.90" font-size="7.0" text-anchor="end" fill="#1e1e1e" >2</text>
<line x1="44.50" y1="253.80" x2="46.50" y2="253.80" stroke="#a0a0a0" stroke-width="1"/>
<text x="39.90" y="256.40" font-size="7.0" text-anchor="end" fill="#1e1e1e" >4</text>
<line x1="44.50" y1="243.30" x2="46.50" y2="243.30" stroke="#a0a0a0" stroke-width="1"/>
<text x="39.90" y="245.90" font-size="7.0" text-anchor="end" fill="#1e1e1e" >6</text>
<line x1="44.50" y1="232.80" x2="46.50" y2="232.80" stroke="#a0a0a0" stroke-width="1"/>
<text x="39.90" y="235.40" font-size="7.0" text-anchor="end" fill="#1e1e1e" >8</text>
<line x1="44.50" y1="222.30" x2="46.50" y2="222.30" stroke="#a0a0a0" stroke-width="1"/>
<text x="39.90" y="224.90" font-size="7.0" text-anchor="end" fill="#1e1e1e" >10</text>
<line x1="44.50" y1="211.80" x2="46.50" y2="211.80" stroke="#a0a0a0" stroke-width="1"/>
<text x="39.90" y="214.40" font-size="7.0" text-anchor="end" fill="#1e1e1e" >12</text>
<line x1="44.50" y1="201.30" x2="46.50" y2="201.30" stroke="#a0a0a0" stroke-width="1"/>
<text x="39.90" y="203.90" font-size="7.0" text-anchor="end" fill="#1e1e1e" >14</text>
<line x1="44.50" y1="190.80" x2="46.50" y2="190.80" stroke="#a0a0a0" stroke-width="1"/>
<text x="39.90" y="193.40" font-size="7.0" text-anchor="end" fill="#1e1e1e" >16</text>
<line x1="44.50" y1="180.30" x2="46.50" y2="180.30" stroke="#a0a0a0" stroke-width="1"/>
<text x="39.90" y="182.90" font-size="7.0" text-anchor="end" fill="#1e1e1e" >18</text>
<line x1="44.50" y1="169.80" x2="46.50" y2="169.80" stroke="#a0a0a0" stroke-width="1"/>
<text x="39.90" y="172.40" font-size="7.0" text-anchor="end" fill="#1e1e1e" >20</text>
<line x1="46.50" y1="274.80" x2="46.50" y2="276.80" stroke="#a0a0a0" stroke-width="1"/>
<line x1="117.95" y1="274.80" x2="117.95" y2="276.80" stroke="#a0a0a0" stroke-width="1"/>
<line x1="189.40" y1="274.80" x2="189.40" y2="276.80" stroke="#a0a0a0" stroke-width="1"/>
<line x1="260.85" y1="274.80" x2="260.85" y2="276.80" stroke="#a0a0a0" stroke-width="1"/>
<line x1="332.30" y1="274.80" x2="332.30" y2="276.80" stroke="#a0a0a0" stroke-width="1"/>
<line x1="403.75" y1="274.80" x2="403.75" y2="276.80" stroke="#a0a0a0" stroke-width="1"/>
<line x1="475.20" y1="274.80" x2="475.20" y2="276.80" stroke="#a0a0a0" stroke-width="1"/>
<text transform="translate(24.8,221) rotate(-90)" font-size="8.1" text-anchor="middle" fill="#1e1e1e">% Low expressors (&lt;mean-2SD)</text>
<defs>
<linearGradient id="gb" x1="0" y1="0" x2="0" y2="1"><stop offset="0" stop-color="#8fb0f2"/><stop offset="1" stop-color="#6287db"/></linearGradient>
<linearGradient id="gr" x1="0" y1="0" x2="0" y2="1"><stop offset="0" stop-color="#e47a7a"/><stop offset="1" stop-color="#cc4c4c"/></linearGradient>
<linearGradient id="gg" x1="0" y1="0" x2="0" y2="1"><stop offset="0" stop-color="#d6f08a"/><stop offset="1" stop-color="#b1d65c"/></linearGradient>
<linearGradient id="gp" x1="0" y1="0" x2="0" y2="1"><stop offset="0" stop-color="#ae9ae6"/><stop offset="1" stop-color="#8468c4"/></linearGradient>
</defs>
<rect x="66.50" y="243.30" width="16" height="31.50" fill="url(#gr)"/>
<rect x="82.50" y="211.80" width="16" height="63.00" fill="url(#gg)"/>
<rect x="98.50" y="185.55" width="16" height="89.25" fill="url(#gp)"/>
<text x="82.10" y="286.60" font-size="7.25" text-anchor="middle" fill="#1e1e1e" font-style="italic" >STAG2</text>
<rect x="121.95" y="243.30" width="16" height="31.50" fill="url(#gb)"/>
<rect x="137.95" y="211.80" width="16" height="63.00" fill="url(#gr)"/>
<rect x="153.95" y="180.30" width="16" height="94.50" fill="url(#gg)"/>
<rect x="169.95" y="232.80" width="16" height="42.00" fill="url(#gp)"/>
<text x="153.55" y="286.60" font-size="7.25" text-anchor="middle" fill="#1e1e1e" font-style="italic" >RAD21</text>
<rect x="193.40" y="243.30" width="16" height="31.50" fill="url(#gb)"/>
<rect x="209.40" y="238.05" width="16" height="36.75" fill="url(#gr)"/>
<rect x="225.40" y="222.30" width="16" height="52.50" fill="url(#gg)"/>
<rect x="241.40" y="232.80" width="16" height="42.00" fill="url(#gp)"/>
<text x="225.00" y="286.60" font-size="7.25" text-anchor="middle" fill="#1e1e1e" font-style="italic" >SMC1A</text>
<rect x="280.85" y="253.80" width="16" height="21.00" fill="url(#gr)"/>
<rect x="296.85" y="264.30" width="16" height="10.50" fill="url(#gg)"/>
<text x="296.45" y="286.60" font-size="7.25" text-anchor="middle" fill="#1e1e1e" font-style="italic" >SMC3</text>
<rect x="352.30" y="227.55" width="16" height="47.25" fill="url(#gr)"/>
<rect x="368.30" y="227.55" width="16" height="47.25" fill="url(#gg)"/>
<rect x="384.30" y="253.80" width="16" height="21.00" fill="url(#gp)"/>
<text x="367.90" y="286.60" font-size="7.25" text-anchor="middle" fill="#1e1e1e" font-style="italic" >STAG1</text>
<rect x="423.75" y="248.55" width="16" height="26.25" fill="url(#gr)"/>
<rect x="439.75" y="190.80" width="16" height="84.00" fill="url(#gg)"/>
<rect x="455.75" y="206.55" width="16" height="68.25" fill="url(#gp)"/>
<text x="439.35" y="286.60" font-size="7.25" text-anchor="middle" fill="#1e1e1e" font-style="italic" >PDS5B</text>
<rect x="285.6" y="166.40" width="3.2" height="3.2" fill="#8c9ed2"/>
<text x="290.20" y="170.70" font-size="7.4" text-anchor="start" fill="#1e1e1e" >Control</text>
<rect x="285.6" y="182.90" width="3.2" height="3.2" fill="#c47a7a"/>
<text x="290.20" y="187.20" font-size="7.4" text-anchor="start" fill="#1e1e1e" >pAML</text>
<rect x="285.6" y="198.80" width="3.2" height="3.2" fill="#cadc9c"/>
<text x="290.20" y="203.10" font-size="7.4" text-anchor="start" fill="#1e1e1e" >Low-risk MDS</text>
<rect x="285.6" y="214.60" width="3.2" height="3.2" fill="#9890bc"/>
<text x="290.20" y="218.90" font-size="7.4" text-anchor="start" fill="#1e1e1e" >High-risk MDS</text>
</svg>
</body></html>
